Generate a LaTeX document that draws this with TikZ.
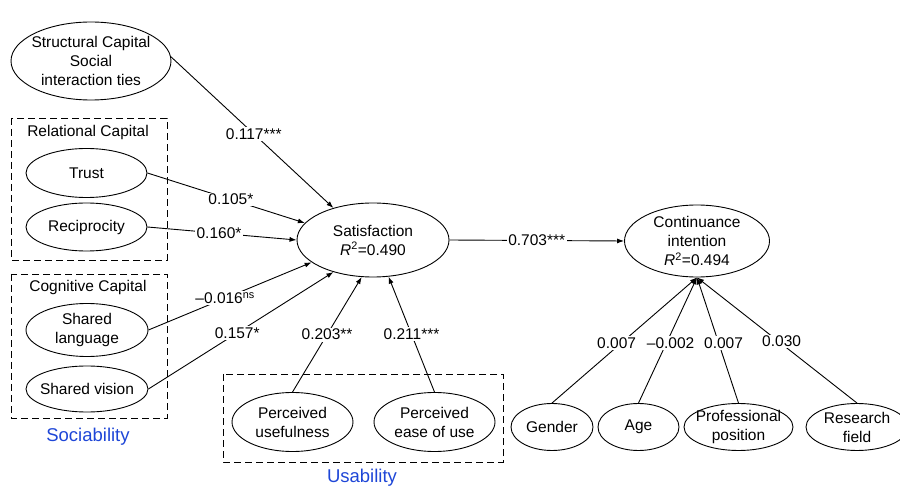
\documentclass[tikz,border=0pt]{standalone}
\usepackage{fontspec}
\setmainfont{Liberation Sans}
\usetikzlibrary{shapes.geometric, arrows.meta}
\definecolor{cBlue}{RGB}{30,70,215}
\tikzset{
	latent/.style ={ellipse, draw=black, line width=0.9pt, inner sep=0pt},
	grpbox/.style ={draw=black, line width=0.9pt, dash pattern=on 7pt off 4pt},
	coef/.style   ={fill=white, inner sep=1.5pt},
	effect/.style ={-{Latex[length=7pt,width=5pt]}, line width=0.9pt},
	grptitle/.style={text=cBlue, font=\fontsize{18.5}{22}\selectfont},
}

\begin{document}
\begin{tikzpicture}[x=1pt, y=-1pt, font=\fontsize{15.5}{19}\selectfont]
	\useasboundingbox (0,0) rectangle (900,486);
	% sociability
	\node[latent, minimum width=160pt, minimum height=78pt,
		label={[align=center]center:{Structural Capital\\Social\\interaction ties}}] (sc) at (91,61) {};
	\draw[grpbox] (11,118) rectangle (167,260);
	\node (relt) at (88,132) {Relational Capital};
	\node[latent, minimum width=121pt, minimum height=49pt, label={center:Trust}] (tr) at (86.5,173) {};
	\node[latent, minimum width=121pt, minimum height=48pt, label={center:Reciprocity}] (rc) at (86.5,227) {};
	\draw[grpbox] (11,274) rectangle (167,418);
	\node (cogt) at (88,287) {Cognitive Capital};
	\node[latent, minimum width=122pt, minimum height=53pt,
		label={[align=center]center:{Shared\\language}}] (sl) at (87,330) {};
	\node[latent, minimum width=122pt, minimum height=46pt, label={center:Shared vision}] (sv) at (87,389) {};
	\node[grptitle] (soc) at (88,437) {Sociability};
	% usability
	\draw[grpbox] (223,374) rectangle (503,462);
	\node[latent, minimum width=121pt, minimum height=59pt,
		label={[align=center]center:{Perceived\\usefulness}}] (pu) at (292.5,422) {};
	\node[latent, minimum width=121pt, minimum height=59pt,
		label={[align=center]center:{Perceived\\ease of use}}] (peou) at (434.5,422) {};
	\node[grptitle] (usa) at (362,478) {Usability};
	% outcomes
	\node[latent, minimum width=152pt, minimum height=74pt,
		label={[align=center]center:{Satisfaction\\\textit{R}\textsuperscript{2}=0.490}}] (sat) at (373,240) {};
	\node[latent, minimum width=145pt, minimum height=72pt,
		label={[align=center]center:{Continuance\\intention\\\textit{R}\textsuperscript{2}=0.494}}] (ci) at (697,241) {};
	% controls
	\node[latent, minimum width=82pt, minimum height=47pt, label={center:Gender}] (gen) at (552,427) {};
	\node[latent, minimum width=81pt, minimum height=47pt, label={center:Age}] (age) at (638.5,427) {};
	\node[latent, minimum width=109pt, minimum height=47pt,
		label={[align=center]center:{Professional\\position}}] (pos) at (738.5,427) {};
	\node[latent, minimum width=102pt, minimum height=47pt,
		label={[align=center]center:{Research\\field}}] (rf) at (857,427) {};

	\draw[effect] (sc.3)    -- node[coef, pos=.51] {0.117***} (sat.141);
	\draw[effect] (tr.east) -- node[coef, pos=.53] {0.105*} (sat.166);
	\draw[effect] (rc.east) -- node[coef, pos=.48] {0.160*} (sat.west);
	\draw[effect] (sl.east) -- node[coef, pos=.47] {–0.016\textsuperscript{ns}} (sat.200);
	\draw[effect] (sv.east) -- node[coef, pos=.48] {0.157*} (sat.219);
	\draw[effect] (pu.north)   -- node[coef, pos=.5] {0.203**} (sat.253);
	\draw[effect] (peou.north) -- node[coef, pos=.5] {0.211***} (sat.293);
	\draw[effect] (sat.east) -- node[coef] {0.703***} (ci.west);
	\draw[effect] (gen.north) -- node[coef, pos=.48, xshift=-5pt] {0.007} (ci.south);
	\draw[effect] (age.north) -- node[coef, pos=.48, xshift=4pt] {–0.002} (ci.south);
	\draw[effect] (pos.north) -- node[coef, pos=.48, xshift=5pt] {0.007} (ci.south);
	\draw[effect] (rf.north)  -- node[coef, pos=.49, xshift=3pt] {0.030} (ci.south);
\end{tikzpicture}
\end{document}
